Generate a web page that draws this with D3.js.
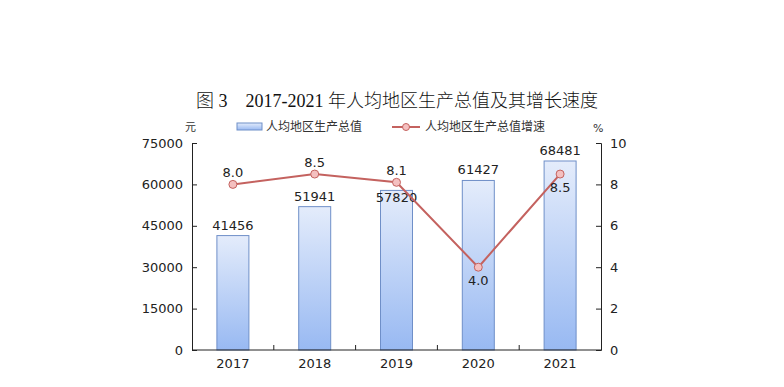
<!DOCTYPE html>
<html>
<head>
<meta charset="utf-8">
<script src="https://cdn.jsdelivr.net/npm/d3@7"></script>
<style>
  body { margin: 0; background: #fff; }
  svg text { font-family: "DejaVu Sans", sans-serif; }
</style>
</head>
<body>
<svg id="chart" width="784" height="387"></svg>
<script>
var years = ["2017", "2018", "2019", "2020", "2021"];
var gdpPerCapita = [41456, 51941, 57820, 61427, 68481];
var growthRate = [8.0, 8.5, 8.1, 4.0, 8.5];
var leftTicks = [0, 15000, 30000, 45000, 60000, 75000];
var rightTicks = [0, 2, 4, 6, 8, 10];
var seriesNames = ["人均地区生产总值", "人均地区生产总值增速"];

var svg = d3.select("#chart");
var margin = {top: 143, left: 192, right: 183, bottom: 37};
var width = 784 - margin.left - margin.right;
var height = 387 - margin.top - margin.bottom;

var lineColor = "#c4625f";

var defs = svg.append("defs");
var grad = defs.append("linearGradient")
    .attr("id", "barGrad")
    .attr("x1", 0).attr("y1", 0).attr("x2", 0).attr("y2", 1);
grad.append("stop").attr("offset", "0%").attr("stop-color", "#e4ecfb");
grad.append("stop").attr("offset", "100%").attr("stop-color", "#98b9f2");

var x = d3.scaleBand().domain(years).range([0, width]);
var yL = d3.scaleLinear().domain([0, 75000]).range([height, 0]);
var yR = d3.scaleLinear().domain([0, 10]).range([height, 0]);

var g = svg.append("g").attr("transform", "translate(" + margin.left + "," + margin.top + ")");

// title
svg.append("text")
   .attr("x", 397)
   .attr("y", 107)
   .attr("text-anchor", "middle")
   .style("font-family", "'Liberation Serif', 'Noto Sans CJK SC', serif")
   .style("font-size", "18px")
   .style("font-weight", "300")
   .style("fill", "#111")
   .text("图 3　2017-2021 年人均地区生产总值及其增长速度");

// units
svg.append("text").attr("x", 185).attr("y", 131)
   .style("font-family", "'Noto Sans CJK SC', sans-serif")
   .style("font-size", "11px").style("fill", "#333").text("元");
svg.append("text").attr("x", 593).attr("y", 132)
   .style("font-size", "11px").style("fill", "#333").text("%");

// legend
svg.append("rect").attr("x", 237).attr("y", 123).attr("width", 25).attr("height", 7)
   .attr("fill", "url(#barGrad)").attr("stroke", "#6f8fc8").attr("stroke-width", 1);
svg.append("text").attr("x", 266).attr("y", 131)
   .style("font-family", "'Noto Sans CJK SC', sans-serif")
   .style("font-size", "12px").style("fill", "#333").text(seriesNames[0]);
svg.append("line").attr("x1", 392).attr("x2", 420).attr("y1", 127).attr("y2", 127)
   .attr("stroke", lineColor).attr("stroke-width", 2);
svg.append("circle").attr("cx", 406).attr("cy", 127).attr("r", 3.5)
   .attr("fill", "#f4c0c0").attr("stroke", lineColor).attr("stroke-width", 1);
svg.append("text").attr("x", 425).attr("y", 131)
   .style("font-family", "'Noto Sans CJK SC', sans-serif")
   .style("font-size", "12px").style("fill", "#333").text(seriesNames[1]);

// bars
var barW = 32;
g.selectAll(".bar")
   .data(gdpPerCapita)
   .enter().append("rect")
   .attr("class", "bar")
   .attr("x", function(d, i) { return x(years[i]) + x.bandwidth() / 2 - barW / 2; })
   .attr("y", function(d) { return yL(d); })
   .attr("width", barW)
   .attr("height", function(d) { return height - yL(d); })
   .attr("fill", "url(#barGrad)")
   .attr("stroke", "#6f8fc8")
   .attr("stroke-width", 1);

// bar labels (moved under the line point when they would collide)
g.selectAll(".barLabel")
   .data(gdpPerCapita)
   .enter().append("text")
   .attr("x", function(d, i) { return x(years[i]) + x.bandwidth() / 2; })
   .attr("y", function(d, i) {
       var top = yL(d);
       var pt = yR(growthRate[i]);
       if (top - pt > 0 && top - pt < 22) return top + 12;
       return top - 6;
   })
   .attr("text-anchor", "middle")
   .style("font-size", "13px")
   .style("fill", "#222")
   .text(function(d) { return d; });

// axes
var axisL = d3.axisLeft(yL).tickValues(leftTicks).tickFormat(d3.format("d")).tickSize(-5).tickPadding(9);
var axisR = d3.axisRight(yR).tickValues(rightTicks).tickFormat(d3.format("d")).tickSize(-5).tickPadding(9);
var axisB = d3.axisBottom(x).tickSize(0).tickPadding(9);

function styleAxis(sel) {
   sel.select(".domain").attr("stroke", "#222");
   sel.selectAll(".tick line").attr("stroke", "#222");
   sel.selectAll("text").style("font-size", "13px").style("fill", "#222")
      .style("font-family", "'DejaVu Sans', sans-serif");
}

g.append("g").call(axisL).call(styleAxis);
g.append("g").attr("transform", "translate(" + width + ",0)").call(axisR).call(styleAxis);
var gb = g.append("g").attr("transform", "translate(0," + height + ")").call(axisB).call(styleAxis);
gb.select(".domain").attr("d", "M0,0H" + width);

// category separators on x axis
g.selectAll(".sep")
   .data(years.slice(1))
   .enter().append("line")
   .attr("x1", function(d) { return x(d); })
   .attr("x2", function(d) { return x(d); })
   .attr("y1", height)
   .attr("y2", height - 5)
   .attr("stroke", "#222");

// growth line
var line = d3.line()
   .x(function(d, i) { return x(years[i]) + x.bandwidth() / 2; })
   .y(function(d) { return yR(d); });

g.append("path")
   .datum(growthRate)
   .attr("d", line)
   .attr("fill", "none")
   .attr("stroke", lineColor)
   .attr("stroke-width", 2);

g.selectAll(".pt")
   .data(growthRate)
   .enter().append("circle")
   .attr("cx", function(d, i) { return x(years[i]) + x.bandwidth() / 2; })
   .attr("cy", function(d) { return yR(d); })
   .attr("r", 4)
   .attr("fill", "#f4c0c0")
   .attr("stroke", lineColor)
   .attr("stroke-width", 1);

// line labels: above unless the point sits lower than its neighbours or at the end
g.selectAll(".ptLabel")
   .data(growthRate)
   .enter().append("text")
   .attr("x", function(d, i) { return x(years[i]) + x.bandwidth() / 2; })
   .attr("y", function(d, i) {
       var below = (i === growthRate.length - 1) ||
           (i > 0 && d < growthRate[i - 1] && d < growthRate[i + 1]);
       return below ? yR(d) + 18 : yR(d) - 7;
   })
   .attr("text-anchor", "middle")
   .style("font-size", "13px")
   .style("fill", "#222")
   .text(function(d) { return d.toFixed(1); });
</script>
</body>
</html>
